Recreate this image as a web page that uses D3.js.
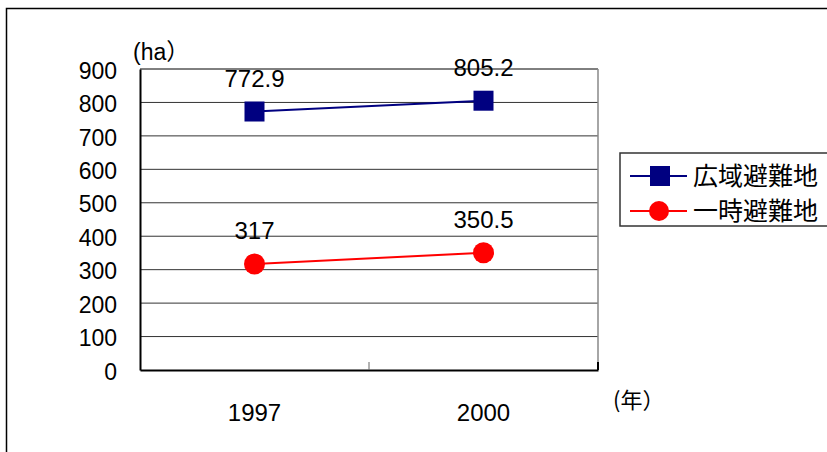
<!DOCTYPE html>
<html><head><meta charset="utf-8">
<script src="https://cdn.jsdelivr.net/npm/d3@7"></script>
<style>body{margin:0;background:#fff}svg{display:block}</style>
</head><body>
<script>
const categories = ["1997", "2000"];
const seriesNames = ["広域避難地", "一時避難地"];
const wideArea = [772.9, 805.2];
const temporary = [317, 350.5];
const yTicks = [0, 100, 200, 300, 400, 500, 600, 700, 800, 900];
const valueLabels = [["772.9", "805.2"], ["317", "350.5"]];

const W = 827, H = 452;
const svg = d3.select("body").append("svg").attr("width", W).attr("height", H);
const font = "'Liberation Sans', Arial, 'Noto Sans CJK JP', sans-serif";
const cjk = "'Noto Sans CJK JP', sans-serif";

// outer frame
svg.append("rect").attr("x", 6.5).attr("y", 8.5).attr("width", 840).attr("height", 460)
  .attr("fill", "none").attr("stroke", "#000").attr("stroke-width", 1.5);

const L = 140, R = 598, T = 69, B = 370;
const x = d3.scaleBand().domain(categories).range([L, R]);
const y = d3.scaleLinear().domain([0, 900]).range([B, T]);

// gridlines
svg.append("g").selectAll("line").data(yTicks.filter(d => d > 0)).join("line")
  .attr("x1", L).attr("x2", R).attr("y1", d => y(d)).attr("y2", d => y(d))
  .attr("stroke", d => d === 900 ? "#000" : "#333").attr("stroke-width", 1);

// right border
svg.append("line").attr("x1", R).attr("x2", R).attr("y1", T).attr("y2", B)
  .attr("stroke", "#888").attr("stroke-width", 1.5);

// y axis
const yAxis = d3.axisLeft(y).tickValues(yTicks).tickSize(0).tickPadding(23);
const gy = svg.append("g").attr("transform", `translate(${L},0)`).call(yAxis);
gy.select(".domain").attr("stroke", "#000").attr("stroke-width", 2);
gy.selectAll("text").attr("font-family", font).attr("font-size", 23).attr("fill", "#000").attr("dy", "0.4em");

// x axis
const xAxis = d3.axisBottom(x).tickSize(0).tickPadding(33);
const gx = svg.append("g").attr("transform", `translate(0,${B})`).call(xAxis);
gx.select(".domain").attr("stroke", "#000").attr("stroke-width", 2);
gx.selectAll("text").attr("font-family", font).attr("font-size", 24).attr("fill", "#000").attr("dy", "0.75em");
// category boundary ticks (inside)
svg.append("g").selectAll("line").data(categories.slice(1)).join("line")
  .attr("x1", d => x(d)).attr("x2", d => x(d)).attr("y1", B).attr("y2", B - 8)
  .attr("stroke", "#666").attr("stroke-width", 1);
svg.append("line").attr("x1", R).attr("x2", R).attr("y1", B).attr("y2", B - 8)
  .attr("stroke", "#000").attr("stroke-width", 2);

const cx = d => x(d) + x.bandwidth() / 2;

// series lines
const line = d3.line().x((d, i) => cx(categories[i])).y(d => y(d));
svg.append("path").datum(wideArea).attr("d", line).attr("fill", "none").attr("stroke", "#000080").attr("stroke-width", 2);
svg.append("path").datum(temporary).attr("d", line).attr("fill", "none").attr("stroke", "#ff0000").attr("stroke-width", 2);

// markers
svg.append("g").selectAll("rect").data(wideArea).join("rect")
  .attr("x", (d, i) => cx(categories[i]) - 10).attr("y", d => y(d) - 10)
  .attr("width", 20).attr("height", 20).attr("fill", "#000080");
svg.append("g").selectAll("circle").data(temporary).join("circle")
  .attr("cx", (d, i) => cx(categories[i])).attr("cy", d => y(d)).attr("r", 10.5).attr("fill", "#ff0000");

// value labels
[wideArea, temporary].forEach((s, si) => {
  svg.append("g").selectAll("text").data(s).join("text")
    .attr("x", (d, i) => cx(categories[i])).attr("y", d => y(d) - 25)
    .attr("text-anchor", "middle").attr("font-family", font).attr("font-size", 24).attr("fill", "#000")
    .text((d, i) => valueLabels[si][i]);
});

// axis unit labels
svg.append("text").attr("x", 133).attr("y", 60).attr("font-family", font).attr("font-size", 23).text("(ha）");
svg.append("text").attr("x", 613).attr("y", 408).attr("font-family", cjk).attr("font-size", 22).text("(年）");

// legend
const lg = svg.append("g");
lg.append("rect").attr("x", 620).attr("y", 153).attr("width", 240).attr("height", 73)
  .attr("fill", "#fff").attr("stroke", "#333").attr("stroke-width", 1.5);
const items = [{name: seriesNames[0], color: "#000080", shape: "rect"}, {name: seriesNames[1], color: "#ff0000", shape: "circle"}];
items.forEach((it, i) => {
  const yy = 176 + i * 35;
  lg.append("line").attr("x1", 630).attr("x2", 687).attr("y1", yy).attr("y2", yy).attr("stroke", it.color).attr("stroke-width", 2);
  if (it.shape === "rect") lg.append("rect").attr("x", 650).attr("y", yy - 10).attr("width", 20).attr("height", 20).attr("fill", it.color);
  else lg.append("circle").attr("cx", 659).attr("cy", yy).attr("r", 10).attr("fill", it.color);
  lg.append("text").attr("x", 693).attr("y", yy + 9).attr("font-family", cjk).attr("font-size", 25).attr("fill", "#000").text(it.name);
});
</script>
</body></html>
